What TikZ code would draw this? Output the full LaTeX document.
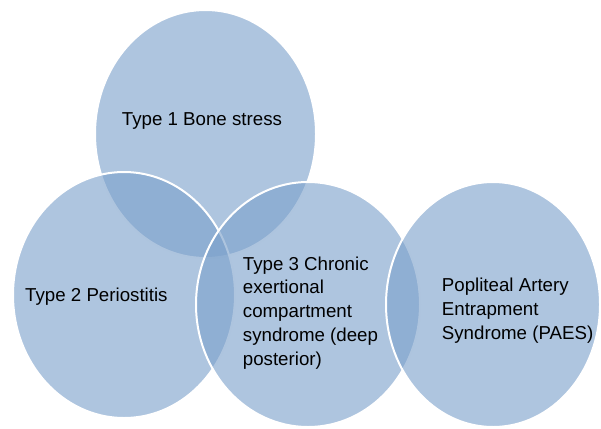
\documentclass[tikz,border=0pt]{standalone}
\usepackage{fontspec}
\setmainfont{Liberation Sans}
\usetikzlibrary{shapes.geometric}
\definecolor{vennblue}{RGB}{124,161,203}
\tikzset{
  venn/.style={ellipse, inner sep=0pt, fill=vennblue, fill opacity=0.62,
    draw=white, draw opacity=1, line width=2pt},
  lbl/.style={anchor=base west, inner sep=0pt, align=left, text=black,
    font=\fontsize{18.7}{23.8}\selectfont}
}
\begin{document}
\begin{tikzpicture}[x=1pt,y=-1pt]
\useasboundingbox (0,0) rectangle (601,428);
\node[venn, minimum width=221pt, minimum height=248pt] (e1) at (205.5,134) {};
\node[venn, minimum width=222pt, minimum height=246pt] (e2) at (124,295) {};
\node[venn, minimum width=224pt, minimum height=245pt] (e3) at (308,304.5) {};
\node[venn, minimum width=214pt, minimum height=245pt] (e4) at (493,304.5) {};
\node[lbl] (t1) at (121.7,125) {Type 1 Bone stress};
\node[lbl] (t2) at (25,301.7) {Type 2 Periostitis};
\node[lbl] (t3) at (242.7,365.2) {Type 3 Chronic\\exertional\\compartment\\syndrome (deep\\posterior)};
\node[lbl] (t4) at (441.7,339.3) {Popliteal Artery\\Entrapment\\Syndrome (PAES)};
\end{tikzpicture}
\end{document}
